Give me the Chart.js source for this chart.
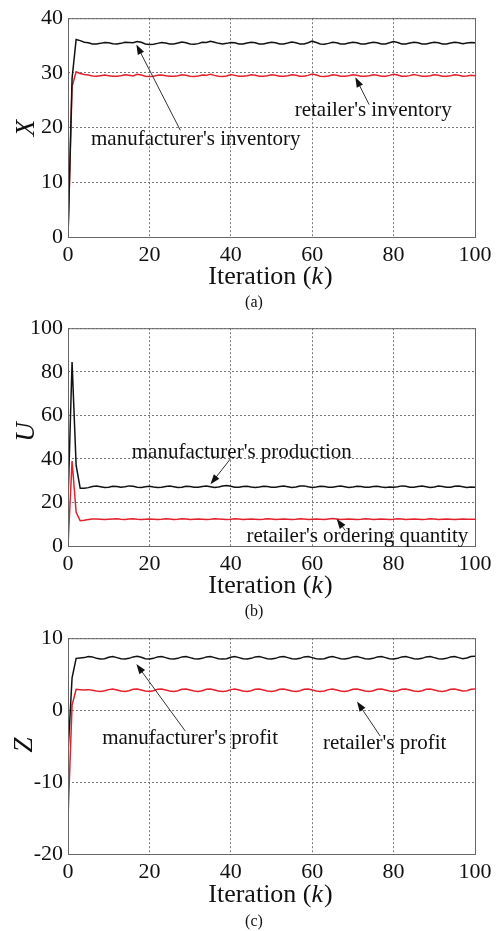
<!DOCTYPE html>
<html>
<head>
<meta charset="utf-8">
<script src="https://cdn.jsdelivr.net/npm/chart.js@4.4.1/dist/chart.umd.min.js"></script>
<style>
html, body { margin: 0; padding: 0; background: #fff; }
.panel { position: absolute; left: 0; }
</style>
</head>
<body>
<div class="panel" style="top:0"><canvas id="ca" width="501" height="310"></canvas></div>
<div class="panel" style="top:310px"><canvas id="cb" width="501" height="310"></canvas></div>
<div class="panel" style="top:620px"><canvas id="cc" width="501" height="311"></canvas></div>
<script>
// iteration index k = 0..100
const iters = Array.from({ length: 101 }, (_, i) => i);
const xTicks = [0, 20, 40, 60, 80, 100];

// (a) inventory
const invManufacturer = [
    0, 29, 36.1, 35.9, 35.6, 35.5, 35.3, 35.3, 35.4, 35.55,
    35.5, 35.35, 35.3, 35.4, 35.6, 35.55, 35.5, 35.75, 35.6, 35.3,
    35.2, 35.25, 35.4, 35.55, 35.45, 35.3, 35.3, 35.45, 35.65, 35.5,
    35.3, 35.25, 35.35, 35.6, 35.55, 35.8, 35.6, 35.4, 35.3, 35.4,
    35.55, 35.5, 35.3, 35.3, 35.45, 35.6, 35.5, 35.3, 35.3, 35.45,
    35.6, 35.5, 35.3, 35.3, 35.45, 35.65, 35.5, 35.3, 35.3, 35.5,
    35.8, 35.55, 35.3, 35.25, 35.4, 35.6, 35.5, 35.3, 35.3, 35.45,
    35.6, 35.5, 35.3, 35.3, 35.45, 35.6, 35.5, 35.3, 35.3, 35.5,
    35.75, 35.55, 35.3, 35.3, 35.45, 35.6, 35.5, 35.3, 35.3, 35.45,
    35.6, 35.5, 35.3, 35.3, 35.45, 35.6, 35.5, 35.35, 35.45, 35.55,
    35.5
];
const invRetailer = [
    0, 27.5, 30.2, 29.9, 29.7, 29.6, 29.45, 29.4, 29.5, 29.6,
    29.5, 29.4, 29.4, 29.5, 29.65, 29.55, 29.45, 29.75, 29.6, 29.4,
    29.35, 29.4, 29.55, 29.6, 29.5, 29.4, 29.4, 29.5, 29.65, 29.55,
    29.4, 29.35, 29.45, 29.6, 29.55, 29.75, 29.55, 29.4, 29.35, 29.45,
    29.7, 29.55, 29.4, 29.4, 29.5, 29.65, 29.55, 29.4, 29.4, 29.5,
    29.65, 29.55, 29.4, 29.4, 29.5, 29.65, 29.55, 29.4, 29.4, 29.55,
    29.8, 29.6, 29.4, 29.35, 29.45, 29.65, 29.55, 29.4, 29.4, 29.5,
    29.65, 29.55, 29.4, 29.4, 29.5, 29.65, 29.55, 29.4, 29.4, 29.55,
    29.75, 29.6, 29.4, 29.4, 29.5, 29.7, 29.55, 29.4, 29.4, 29.5,
    29.65, 29.55, 29.4, 29.4, 29.5, 29.65, 29.55, 29.4, 29.45, 29.55,
    29.5
];
const yTicksA = [0, 10, 20, 30, 40];

// (b) production / ordering
const prodManufacturer = [
    20, 84.5, 37, 26.5, 26.5, 26.8, 27.3, 27.5, 27.2, 26.9,
    27.0, 27.4, 27.3, 27.0, 27.2, 27.6, 27.4, 27.0, 26.9, 27.2,
    27.4, 27.1, 26.9, 27.0, 27.3, 27.5, 27.2, 26.9, 27.0, 27.4,
    27.3, 27.0, 27.0, 27.3, 27.5, 27.2, 26.9, 27.1, 27.5, 27.8,
    27.4, 27.0, 27.0, 27.3, 27.4, 27.1, 26.9, 27.1, 27.4, 27.3,
    27.0, 27.0, 27.3, 27.5, 27.2, 26.9, 27.1, 27.5, 27.6, 27.2,
    26.9, 27.1, 27.4, 27.3, 27.0, 27.0, 27.3, 27.5, 27.2, 26.9,
    27.1, 27.4, 27.3, 27.0, 27.0, 27.3, 27.4, 27.1, 26.9, 27.1,
    27.0, 27.2, 27.6, 27.4, 27.0, 27.0, 27.3, 27.5, 27.2, 26.9,
    27.1, 27.5, 27.3, 27.0, 27.0, 27.4, 27.5, 27.2, 26.9, 27.1,
    27.0
];
const orderRetailer = [
    0, 39, 15.5, 11.6, 11.8, 12.2, 12.4, 12.4, 12.3, 12.2,
    12.3, 12.4, 12.5, 12.3, 12.2, 12.4, 12.5, 12.3, 12.2, 12.3,
    12.4, 12.3, 12.2, 12.3, 12.5, 12.4, 12.2, 12.3, 12.5, 12.4,
    12.2, 12.3, 12.4, 12.3, 12.2, 12.3, 12.5, 12.4, 12.3, 12.2,
    12.3, 12.5, 12.4, 12.2, 12.3, 12.4, 12.3, 12.2, 12.3, 12.5,
    12.4, 12.2, 12.3, 12.4, 12.3, 12.2, 12.3, 12.5, 12.4, 12.2,
    12.3, 12.4, 12.3, 12.2, 12.4, 12.6, 12.4, 12.2, 12.3, 12.4,
    12.3, 12.2, 12.3, 12.5, 12.4, 12.2, 12.3, 12.4, 12.3, 12.2,
    12.3, 12.5, 12.4, 12.2, 12.3, 12.4, 12.3, 12.2, 12.3, 12.5,
    12.4, 12.2, 12.3, 12.4, 12.3, 12.2, 12.3, 12.4, 12.3, 12.3,
    12.3
];
const yTicksB = [0, 20, 40, 60, 80, 100];

// (c) profit
const profitManufacturer = [
    -6, 4.5, 7.2, 7.25, 7.3, 7.45, 7.4, 7.2, 7.1, 7.15,
    7.35, 7.45, 7.3, 7.15, 7.1, 7.2, 7.4, 7.5, 7.35, 7.15,
    7.1, 7.2, 7.4, 7.45, 7.3, 7.15, 7.1, 7.2, 7.4, 7.45,
    7.3, 7.15, 7.1, 7.2, 7.4, 7.45, 7.3, 7.15, 7.1, 7.15,
    7.35, 7.45, 7.3, 7.15, 7.1, 7.2, 7.4, 7.45, 7.3, 7.15,
    7.1, 7.2, 7.4, 7.45, 7.3, 7.15, 7.1, 7.2, 7.4, 7.45,
    7.3, 7.15, 7.1, 7.15, 7.35, 7.45, 7.3, 7.15, 7.1, 7.2,
    7.4, 7.45, 7.3, 7.15, 7.1, 7.2, 7.4, 7.45, 7.3, 7.15,
    7.1, 7.2, 7.4, 7.45, 7.3, 7.15, 7.1, 7.2, 7.4, 7.45,
    7.3, 7.15, 7.1, 7.2, 7.4, 7.45, 7.3, 7.15, 7.25, 7.45,
    7.5
];
const profitRetailer = [
    -15, 0.7, 2.9, 2.85, 2.8, 2.85, 2.75, 2.65, 2.6, 2.7,
    2.85, 2.95, 2.8, 2.65, 2.6, 2.7, 2.9, 2.95, 2.8, 2.65,
    2.6, 2.7, 2.9, 2.95, 2.8, 2.65, 2.6, 2.7, 2.9, 2.95,
    2.8, 2.65, 2.6, 2.7, 2.9, 2.95, 2.8, 2.65, 2.6, 2.65,
    2.85, 2.95, 2.8, 2.65, 2.6, 2.7, 2.9, 2.95, 2.8, 2.65,
    2.6, 2.7, 2.9, 2.95, 2.8, 2.65, 2.6, 2.7, 2.9, 2.95,
    2.8, 2.65, 2.6, 2.65, 2.85, 2.95, 2.8, 2.65, 2.6, 2.7,
    2.9, 2.95, 2.8, 2.65, 2.6, 2.7, 2.9, 2.95, 2.8, 2.65,
    2.6, 2.7, 2.9, 2.95, 2.8, 2.65, 2.6, 2.7, 2.9, 2.95,
    2.8, 2.65, 2.6, 2.7, 2.9, 2.95, 2.8, 2.65, 2.7, 2.9,
    2.95
];
const yTicksC = [-20, -10, 0, 10];

const serif = "'Liberation Serif', 'Times New Roman', serif";

function pts(vals) {
    return vals.map((v, i) => ({ x: iters[i], y: v }));
}

// draws frame, axis titles, caption and the arrow notes
const paneltext = {
    id: 'paneltext',
    afterDraw(chart, args, o) {
        const { ctx, chartArea: a, scales: { x, y } } = chart;
        ctx.save();
        ctx.strokeStyle = '#666';
        ctx.lineWidth = 1;
        ctx.strokeRect(a.left + 0.5, a.top + 0.5, a.width, a.height);

        ctx.fillStyle = '#111';
        ctx.textBaseline = 'middle';

        // y title, rotated
        ctx.save();
        ctx.translate(o.ytx, o.yty);
        ctx.rotate(-Math.PI / 2);
        ctx.textAlign = 'center';
        ctx.font = 'italic 27px ' + serif;
        ctx.fillText(o.ytitle, 0, 0);
        ctx.restore();

        // x title with italic k
        ctx.textAlign = 'left';
        const f1 = '26px ' + serif, f2 = 'italic 26px ' + serif;
        ctx.font = f1;
        const w1 = ctx.measureText('Iteration (').width;
        const w3 = ctx.measureText(')').width;
        ctx.font = f2;
        const w2 = ctx.measureText('k').width;
        let sx = o.xtx - (w1 + w2 + w3) / 2;
        ctx.font = f1; ctx.fillText('Iteration (', sx, o.xty);
        ctx.font = f2; ctx.fillText('k', sx + w1, o.xty);
        ctx.font = f1; ctx.fillText(')', sx + w1 + w2 + 1, o.xty);

        // caption
        ctx.textAlign = 'center';
        ctx.font = '16px ' + serif;
        ctx.fillText(o.caption, 254, o.capy);

        // notes
        ctx.font = '21px ' + serif;
        o.notes.forEach(n => {
            ctx.fillText(n.text, x.getPixelForValue(n.x), y.getPixelForValue(n.y));
        });

        // arrows
        o.arrows.forEach(ar => {
            const x1 = x.getPixelForValue(ar.from[0]), y1 = y.getPixelForValue(ar.from[1]);
            const x2 = x.getPixelForValue(ar.to[0]), y2 = y.getPixelForValue(ar.to[1]);
            const ang = Math.atan2(y2 - y1, x2 - x1);
            ctx.strokeStyle = '#333';
            ctx.lineWidth = 1;
            ctx.beginPath();
            ctx.moveTo(x1, y1);
            ctx.lineTo(x2 - 6 * Math.cos(ang), y2 - 6 * Math.sin(ang));
            ctx.stroke();
            ctx.fillStyle = '#111';
            ctx.beginPath();
            ctx.moveTo(x2, y2);
            ctx.lineTo(x2 - 10 * Math.cos(ang) + 3.5 * Math.sin(ang), y2 - 10 * Math.sin(ang) - 3.5 * Math.cos(ang));
            ctx.lineTo(x2 - 10 * Math.cos(ang) - 3.5 * Math.sin(ang), y2 - 10 * Math.sin(ang) + 3.5 * Math.cos(ang));
            ctx.closePath();
            ctx.fill();
            ctx.fillStyle = '#111';
        });
        ctx.restore();
    }
};

function makechart(id, black, red, yticks, topPad, xh, text) {
    const grid = { color: '#777', lineWidth: 1, drawTicks: false };
    const border = { display: false, dash: [2, 2] };
    new Chart(document.getElementById(id), {
        type: 'line',
        data: {
            datasets: [
                { data: pts(black), borderColor: '#111', borderWidth: 1.5 },
                { data: pts(red), borderColor: '#e3202b', borderWidth: 1.5 }
            ]
        },
        options: {
            responsive: false,
            animation: false,
            events: [],
            layout: { padding: { left: 0, right: 26, top: topPad, bottom: 0 } },
            elements: { point: { radius: 0 }, line: { tension: 0 } },
            plugins: { legend: { display: false }, tooltip: { enabled: false }, paneltext: text },
            scales: {
                x: {
                    type: 'linear', min: 0, max: 100,
                    afterBuildTicks: s => { s.ticks = xTicks.map(v => ({ value: v })); },
                    afterFit: s => { s.height = xh; },
                    grid: grid, border: border,
                    ticks: { color: '#111', padding: 5, maxRotation: 0, font: { family: serif, size: 22 } }
                },
                y: {
                    min: yticks[0], max: yticks[yticks.length - 1],
                    afterBuildTicks: s => { s.ticks = yticks.map(v => ({ value: v })); },
                    afterFit: s => { s.width = 68; },
                    grid: grid, border: border,
                    ticks: { color: '#111', padding: 5, font: { family: serif, size: 22 } }
                }
            }
        },
        plugins: [paneltext]
    });
}

makechart('ca', invManufacturer, invRetailer, yTicksA, 13, 73, {
    ytitle: 'X', ytx: 27, yty: 128, xtx: 270, xty: 277, caption: '(a)', capy: 303,
    notes: [
        { text: "manufacturer's inventory", x: 31.4, y: 17.9 },
        { text: "retailer's inventory", x: 75, y: 23.1 }
    ],
    arrows: [
        { from: [27.6, 19.5], to: [16.8, 35.2] },
        { from: [74, 24.2], to: [70.6, 29.2] }
    ]
});

makechart('cb', prodManufacturer, orderRetailer, yTicksB, 13, 74, {
    ytitle: 'U', ytx: 27, yty: 122, xtx: 270, xty: 276, caption: '(b)', capy: 302,
    notes: [
        { text: "manufacturer's production", x: 42.7, y: 43 },
        { text: "retailer's ordering quantity", x: 71.1, y: 4.5 }
    ],
    arrows: [
        { from: [39.9, 40], to: [35, 28.3] },
        { from: [68.1, 7.2], to: [66, 12.5] }
    ]
});

makechart('cc', profitManufacturer, profitRetailer, yTicksC, 11, 77, {
    ytitle: 'Z', ytx: 25, yty: 125, xtx: 270, xty: 275, caption: '(c)', capy: 302,
    notes: [
        { text: "manufacturer's profit", x: 30, y: -3.95 },
        { text: "retailer's profit", x: 77.8, y: -4.6 }
    ],
    arrows: [
        { from: [28.8, -2.9], to: [16.8, 6.4] },
        { from: [76.7, -3.6], to: [71, 1.2] }
    ]
});
</script>
</body>
</html>
